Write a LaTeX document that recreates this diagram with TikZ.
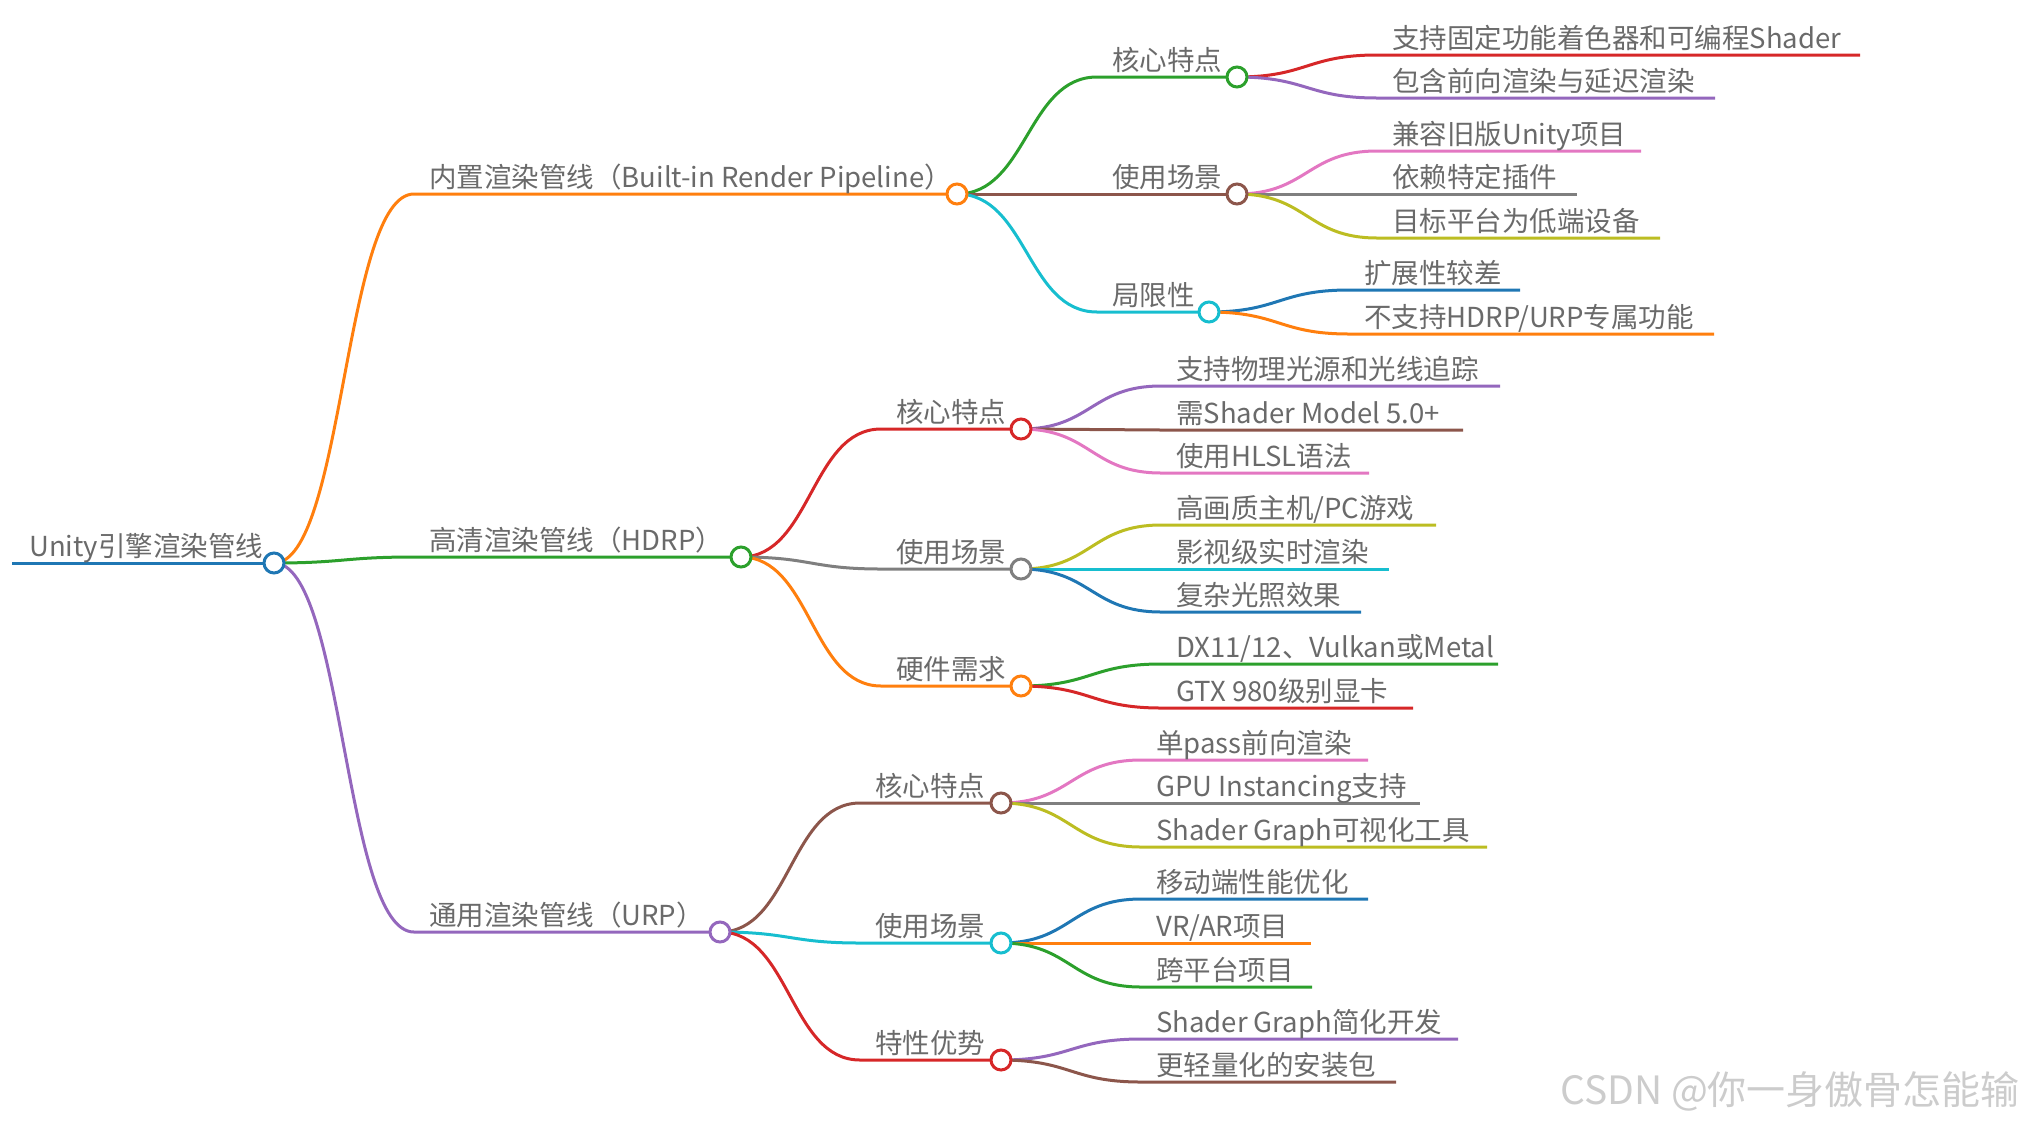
\documentclass[tikz,border=0pt]{standalone}
\usepackage{fontspec}
\setmainfont{Noto Sans CJK SC}
\definecolor{mBlue}{HTML}{1F77B4}
\definecolor{mOrange}{HTML}{FF7F0E}
\definecolor{mGreen}{HTML}{2CA02C}
\definecolor{mRed}{HTML}{D62728}
\definecolor{mPurple}{HTML}{9467BD}
\definecolor{mBrown}{HTML}{8C564B}
\definecolor{mPink}{HTML}{E377C2}
\definecolor{mGray}{HTML}{7F7F7F}
\definecolor{mOlive}{HTML}{BCBD22}
\definecolor{mCyan}{HTML}{17BECF}
\definecolor{txt}{HTML}{6A6A6A}
\definecolor{wmark}{HTML}{CCCCCC}
\newcommand\mmleaf[7]{%
  \coordinate (#1s) at (#3,#4);
  \coordinate (#1e) at (#5,#4);
  \draw[link,#6] (#2) .. controls +(70,0) and +(-70,0) .. (#1s) -- (#1e);
  \node[lbl] (#1t) at ([shift={(15,-7)}]#1s) {#7};
}
\newcommand\mmbranch[7]{%
  \coordinate (#1s) at (#3,#4);
  \coordinate (#1) at (#5,#4);
  \draw[link,#6] (#2) .. controls +(70,0) and +(-70,0) .. (#1s) -- (#1);
  \node[lbl] (#1t) at ([shift={(15,-7)}]#1s) {#7};
}
\tikzset{
  link/.style={line width=3pt},
  dot/.style={circle, fill=white, line width=3pt, minimum size=20pt, inner sep=0pt},
  lbl/.style={anchor=base west, inner sep=0pt, text=txt, font=\fontsize{27.5}{30}\selectfont},
}
\begin{document}
\begin{tikzpicture}[x=1pt,y=-1pt]
\useasboundingbox (0,0) rectangle (2028,1125);
% root
\coordinate (r0) at (12,563);
\coordinate (r) at (274,563);
\draw[link,mBlue] (r0) -- (r);
\node[lbl] (rt) at (29,556) {Unity引擎渲染管线};
% level 1
\mmbranch{A}{r}{414}{194}{957}{mOrange}{内置渲染管线（Built-in Render Pipeline）}
\mmbranch{B}{r}{414}{557}{741}{mGreen}{高清渲染管线（HDRP）}
\mmbranch{C}{r}{414}{932}{720}{mPurple}{通用渲染管线（URP）}
% built-in
\mmbranch{AA}{A}{1097}{77}{1237}{mGreen}{核心特点}
\mmbranch{AB}{A}{1097}{194}{1237}{mBrown}{使用场景}
\mmbranch{AC}{A}{1097}{312}{1209}{mCyan}{局限性}
\mmleaf{AAa}{AA}{1377}{55}{1860}{mRed}{支持固定功能着色器和可编程Shader}
\mmleaf{AAb}{AA}{1377}{98}{1715}{mPurple}{包含前向渲染与延迟渲染}
\mmleaf{ABa}{AB}{1377}{151}{1641}{mPink}{兼容旧版Unity项目}
\mmleaf{ABb}{AB}{1377}{194}{1577}{mGray}{依赖特定插件}
\mmleaf{ABc}{AB}{1377}{238}{1660}{mOlive}{目标平台为低端设备}
\mmleaf{ACa}{AC}{1349}{290}{1520}{mBlue}{扩展性较差}
\mmleaf{ACb}{AC}{1349}{334}{1714}{mOrange}{不支持HDRP/URP专属功能}
% HDRP
\mmbranch{BA}{B}{881}{429}{1021}{mRed}{核心特点}
\mmbranch{BB}{B}{881}{569}{1021}{mGray}{使用场景}
\mmbranch{BC}{B}{881}{686}{1021}{mOrange}{硬件需求}
\mmleaf{BAa}{BA}{1161}{386}{1500}{mPurple}{支持物理光源和光线追踪}
\mmleaf{BAb}{BA}{1161}{430}{1463}{mBrown}{需Shader Model 5.0+}
\mmleaf{BAc}{BA}{1161}{473}{1369}{mPink}{使用HLSL语法}
\mmleaf{BBa}{BB}{1161}{525}{1436}{mOlive}{高画质主机/PC游戏}
\mmleaf{BBb}{BB}{1161}{569}{1389}{mCyan}{影视级实时渲染}
\mmleaf{BBc}{BB}{1161}{612}{1361}{mBlue}{复杂光照效果}
\mmleaf{BCa}{BC}{1161}{664}{1498}{mGreen}{DX11/12、Vulkan或Metal}
\mmleaf{BCb}{BC}{1161}{708}{1413}{mRed}{GTX 980级别显卡}
% URP
\mmbranch{CA}{C}{860}{803}{1001}{mBrown}{核心特点}
\mmbranch{CB}{C}{860}{943}{1001}{mCyan}{使用场景}
\mmbranch{CC}{C}{860}{1060}{1001}{mRed}{特性优势}
\mmleaf{CAa}{CA}{1141}{760}{1368}{mPink}{单pass前向渲染}
\mmleaf{CAb}{CA}{1141}{803}{1420}{mGray}{GPU Instancing支持}
\mmleaf{CAc}{CA}{1141}{847}{1487}{mOlive}{Shader Graph可视化工具}
\mmleaf{CBa}{CB}{1141}{899}{1368}{mBlue}{移动端性能优化}
\mmleaf{CBb}{CB}{1141}{943}{1311}{mOrange}{VR/AR项目}
\mmleaf{CBc}{CB}{1141}{987}{1312}{mGreen}{跨平台项目}
\mmleaf{CCa}{CC}{1141}{1039}{1458}{mPurple}{Shader Graph简化开发}
\mmleaf{CCb}{CC}{1141}{1082}{1396}{mBrown}{更轻量化的安装包}
% circles
\node[dot,draw=mBlue] (rc) at (r) {};
\node[dot,draw=mOrange] (Ac) at (A) {};
\node[dot,draw=mGreen] (Bc) at (B) {};
\node[dot,draw=mPurple] (Cc) at (C) {};
\node[dot,draw=mGreen] (AAc) at (AA) {};
\node[dot,draw=mBrown] (ABc) at (AB) {};
\node[dot,draw=mCyan] (ACc) at (AC) {};
\node[dot,draw=mRed] (BAc) at (BA) {};
\node[dot,draw=mGray] (BBc) at (BB) {};
\node[dot,draw=mOrange] (BCc) at (BC) {};
\node[dot,draw=mBrown] (CAc) at (CA) {};
\node[dot,draw=mCyan] (CBc) at (CB) {};
\node[dot,draw=mRed] (CCc) at (CC) {};
% watermark
\node[anchor=base west, inner sep=0pt, text=wmark, font=\fontsize{39}{40}\selectfont] (wm) at (1560,1104) {CSDN @你一身傲骨怎能输};
\end{tikzpicture}
\end{document}
